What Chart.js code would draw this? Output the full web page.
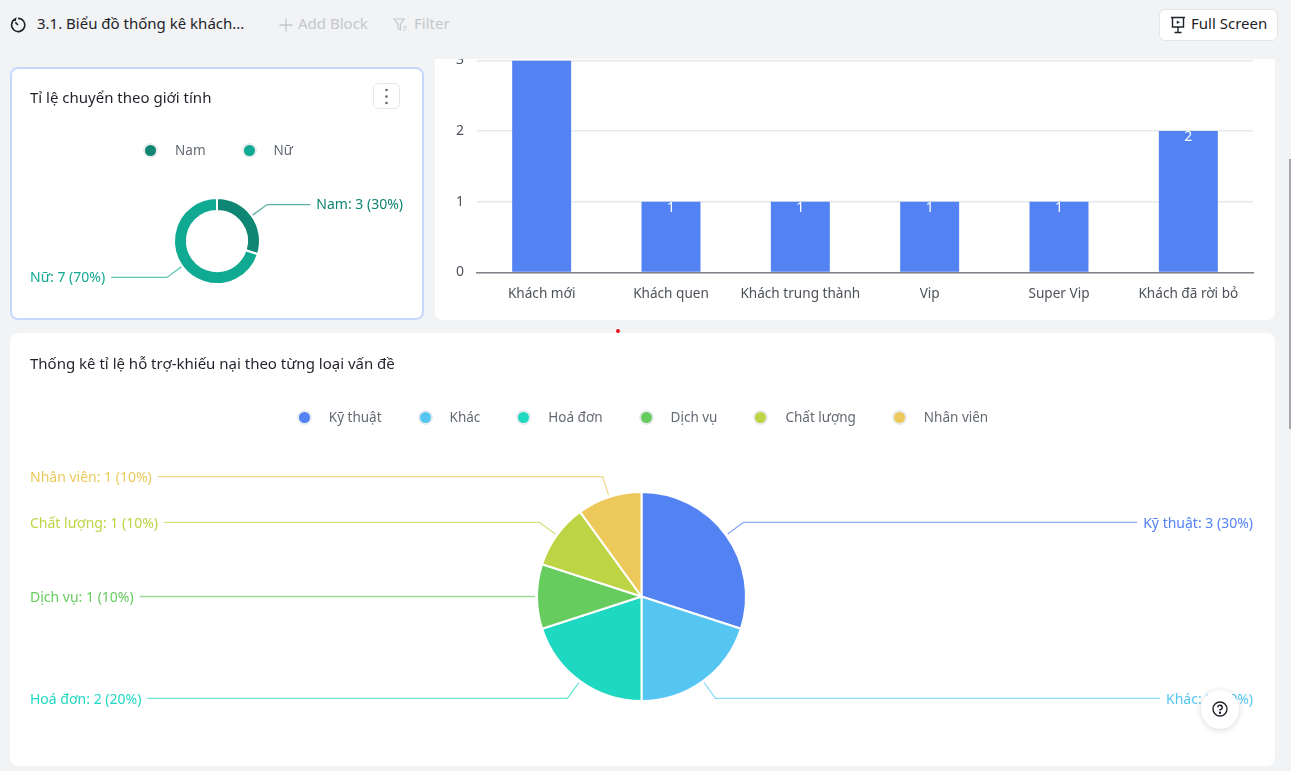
<!DOCTYPE html>
<html lang="vi">
<head>
<meta charset="utf-8">
<title>3.1. Biểu đồ thống kê khách</title>
<script src="https://cdn.jsdelivr.net/npm/chart.js@4"></script>
<style>
  * { box-sizing: border-box; }
  html, body { margin: 0; width: 1291px; height: 771px; overflow: hidden; background: #f1f3f5; font-family: "Noto Sans", sans-serif; }
  .abs { position: absolute; white-space: nowrap; }
  .card { position: absolute; background: #fff; border-radius: 8px; overflow: hidden; }
  canvas { position: absolute; display: block; }
  .title { position: absolute; left: 30px; font-size: 15px; color: #1f2329; line-height: 20px; white-space: nowrap; }
  .legend { position: absolute; display: flex; justify-content: center; align-items: center; gap: 38px; font-size: 13.5px; color: #646a73; line-height: 20px; }
  .legend span.item { display: flex; align-items: center; gap: 19px; }
  .legend i { width: 11px; height: 11px; border-radius: 50%; box-shadow: 0 0 0 2px #e9ecef; display: block; }
</style>
</head>
<body>
  <!-- top bar -->
  <svg class="abs" style="left:10px;top:17px" width="16" height="16" viewBox="0 0 16 16" fill="none" stroke="#1f2329" stroke-width="1.6">
    <path d="M5 2.2A6.6 6.6 0 1 0 8 1.4"/><path d="M8 8 5.4 5.4"/><path d="M3.6 3.4 5.4 2 5 4"/>
  </svg>
  <div class="abs" style="left:37px;top:13px;font-size:15px;line-height:20px;color:#1f2329">3.1. Biểu đồ thống kê khách...</div>
  <svg class="abs" style="left:279px;top:18px" width="14" height="14" viewBox="0 0 14 14" stroke="#c4c7cc" stroke-width="1.3"><path d="M7 0.5v13M0.5 7h13"/></svg>
  <div class="abs" style="left:298px;top:13px;font-size:15px;line-height:20px;color:#c4c7cc">Add Block</div>
  <svg class="abs" style="left:393px;top:18px" width="15" height="14" viewBox="0 0 15 14" fill="none" stroke="#c4c7cc" stroke-width="1.2"><path d="M1 1h10L7.5 6v6L5 10.5V6z"/><path d="M10 9h4M10 12h3"/></svg>
  <div class="abs" style="left:414px;top:13px;font-size:15px;line-height:20px;color:#c4c7cc">Filter</div>
  <div class="abs" style="left:1159px;top:9px;width:119px;height:32px;background:#fff;border:1px solid #e3e5e8;border-radius:6px"></div>
  <svg class="abs" style="left:1170px;top:16px" width="16" height="18" viewBox="0 0 16 18" fill="none" stroke="#1f2329" stroke-width="1.4"><path d="M1 1.5h14M2.5 1.5v9.5h11V1.5M8 11v5M4.5 16.5h7"/><path d="M6.8 4.5 10 6.3 6.8 8z" fill="#1f2329" stroke="none"/></svg>
  <div class="abs" style="left:1191px;top:13px;font-size:15px;line-height:20px;color:#1f2329">Full Screen</div>

  <!-- gender card -->
  <div class="card" style="left:10px;top:67px;width:414px;height:253px">
    <canvas id="gender-chart" style="left:0;top:0" width="414" height="253"></canvas>
  </div>
  <div class="abs" style="left:10px;top:67px;width:414px;height:253px;border:2px solid #c7d7fb;border-radius:8px"></div>
  <div class="title" style="top:87px">Tỉ lệ chuyển theo giới tính</div>
  <div class="abs" style="left:373px;top:83px;width:27px;height:26px;border:1px solid #e6e8eb;border-radius:5px;background:#fff"></div>
  <svg class="abs" style="left:385px;top:88px" width="3" height="17" viewBox="0 0 3 17" fill="#646a73"><circle cx="1.5" cy="2" r="1.3"/><circle cx="1.5" cy="8.5" r="1.3"/><circle cx="1.5" cy="15" r="1.3"/></svg>
  <div class="legend" id="gender-legend" style="left:10px;top:140px;width:418px"></div>

  <!-- customer type card, scrolled so its top is cut off -->
  <div class="card" style="left:435px;top:59px;width:840px;height:261px;border-radius:0 0 8px 8px">
    <canvas id="customer-chart" style="left:0;top:-20px" width="840" height="281"></canvas>
  </div>

  <div class="abs" style="left:616px;top:329px;width:4px;height:4px;border-radius:50%;background:#e8141f"></div>

  <!-- issue card -->
  <div class="card" style="left:10px;top:333px;width:1265px;height:433px">
    <canvas id="issue-chart" style="left:0;top:0" width="1265" height="433"></canvas>
  </div>
  <div class="title" style="top:353px">Thống kê tỉ lệ hỗ trợ-khiếu nại theo từng loại vấn đề</div>
  <div class="legend" id="issue-legend" style="left:11px;top:407px;width:1265px"></div>

  <!-- page scrollbar -->
  <div class="abs" style="left:1289px;top:159px;width:2px;height:270px;background:#a3a6aa"></div>

  <!-- help button -->
  <div class="abs" style="left:1201px;top:690px;width:38px;height:39px;border-radius:50%;background:#fff;box-shadow:0 1px 6px rgba(0,0,0,.16)"></div>
  <svg class="abs" style="left:1212px;top:701px" width="16" height="16" viewBox="0 0 16 16" fill="none" stroke="#1f2329" stroke-width="1.4">
    <circle cx="8" cy="8" r="7"/><path d="M5.8 6.2A2.2 2.2 0 1 1 8 8.6v1"/><circle cx="8" cy="11.8" r=".5" fill="#1f2329"/>
  </svg>

<script>
const FONT = '"Noto Sans", sans-serif';

const genderLabels = ["Nam", "Nữ"];
const genderValues = [3, 7];
const genderColors = ["#0f8573", "#10a992"];

const customerTypes  = ["Khách mới", "Khách quen", "Khách trung thành", "Vip", "Super Vip", "Khách đã rời bỏ"];
const customerCounts = [3, 1, 1, 1, 1, 2];
// the label of the first bar is scrolled out of view in the original
const customerBarLabels = ["", "1", "1", "1", "1", "2"];

const issueLabels = ["Kỹ thuật", "Khác", "Hoá đơn", "Dịch vụ", "Chất lượng", "Nhân viên"];
const issueValues = [3, 2, 2, 1, 1, 1];
const issueColors = ["#5383f3", "#55c6f2", "#1fd8c1", "#66cc5e", "#bdd444", "#ecc95a"];

// ── Legends ───────────────────────────────────────────────
function renderLegend(id, labels, colors) {
  const box = document.getElementById(id);
  labels.forEach((label, i) => {
    const item = document.createElement("span");
    item.className = "item";
    const dot = document.createElement("i");
    dot.style.background = colors[i];
    item.appendChild(dot);
    item.appendChild(document.createTextNode(label));
    box.appendChild(item);
  });
}
renderLegend("gender-legend", genderLabels, genderColors);
renderLegend("issue-legend", issueLabels, issueColors);

// ── Leader lines with "name: value (pct%)" labels ─────────
const leaderPlugin = {
  id: "leaders",
  afterDraw(chart, args, opts) {
    const ctx = chart.ctx;
    const ds = chart.data.datasets[0];
    const total = ds.data.reduce((a, b) => a + b, 0);
    ctx.save();
    ctx.font = `14px ${FONT}`;
    ctx.textBaseline = "middle";
    chart.getDatasetMeta(0).data.forEach((arc, i) => {
      const { x, y, startAngle, endAngle, outerRadius } = arc.getProps(["x", "y", "startAngle", "endAngle", "outerRadius"], true);
      const mid = (startAngle + endAngle) / 2;
      const r0 = outerRadius + opts.gap;
      const r1 = outerRadius + opts.elbow;
      const x0 = x + Math.cos(mid) * r0, y0 = y + Math.sin(mid) * r0;
      const x1 = x + Math.cos(mid) * r1, y1 = y + Math.sin(mid) * r1;
      const text = `${chart.data.labels[i]}: ${ds.data[i]} (${Math.round(ds.data[i] / total * 100)}%)`;
      const w = ctx.measureText(text).width;
      const onRight = Math.cos(mid) > 0;
      const xEnd = onRight ? opts.rightEdge - w - 6 : opts.leftEdge + w + 6;

      ctx.strokeStyle = ds.backgroundColor[i] + "aa";
      ctx.lineWidth = 1.3;
      ctx.beginPath();
      ctx.moveTo(x0, y0);
      ctx.lineTo(x1, y1);
      ctx.lineTo(xEnd, y1);
      ctx.stroke();

      ctx.fillStyle = ds.backgroundColor[i];
      ctx.textAlign = "left";
      ctx.fillText(text, onRight ? opts.rightEdge - w : opts.leftEdge, y1 + opts.textDy);
    });
    ctx.restore();
  },
};

function pieOptions(cutout, padding, leaders) {
  return {
    responsive: false,
    animation: false,
    cutout,
    layout: { padding },
    plugins: { legend: { display: false }, tooltip: { enabled: false }, leaders },
  };
}

new Chart(document.getElementById("gender-chart"), {
  type: "doughnut",
  plugins: [leaderPlugin],
  data: {
    labels: genderLabels,
    datasets: [{ data: genderValues, backgroundColor: genderColors, borderColor: "#fff", borderWidth: 2 }],
  },
  options: pieOptions("70%", { top: 130, bottom: 35 }, { gap: 1, elbow: 19, leftEdge: 20, rightEdge: 393, textDy: 0.5 }),
});

new Chart(document.getElementById("issue-chart"), {
  type: "pie",
  plugins: [leaderPlugin],
  data: {
    labels: issueLabels,
    datasets: [{ data: issueValues, backgroundColor: issueColors, borderColor: "#fff", borderWidth: 2 }],
  },
  options: pieOptions(0, { top: 158, bottom: 64, right: 2 }, { gap: 2, elbow: 21.5, leftEdge: 20, rightEdge: 1243, textDy: 1.5 }),
});

// ── Column chart ──────────────────────────────────────────
const barLabelPlugin = {
  id: "barLabels",
  afterDatasetsDraw(chart) {
    const ctx = chart.ctx;
    ctx.save();
    ctx.font = `14px ${FONT}`;
    ctx.fillStyle = "#fff";
    ctx.textAlign = "center";
    ctx.textBaseline = "middle";
    chart.getDatasetMeta(0).data.forEach((bar, i) => {
      ctx.fillText(customerBarLabels[i], bar.x, bar.y + 6);
    });
    ctx.restore();
  },
};

new Chart(document.getElementById("customer-chart"), {
  type: "bar",
  plugins: [barLabelPlugin],
  data: {
    labels: customerTypes,
    datasets: [{ data: customerCounts, backgroundColor: "#5383f3", barPercentage: 0.456, categoryPercentage: 1 }],
  },
  options: {
    responsive: false,
    animation: false,
    layout: { padding: { top: 18.5, right: 22 } },
    plugins: { legend: { display: false }, tooltip: { enabled: false } },
    scales: {
      x: {
        afterFit: s => { s.height = 47.5; },
        grid: { display: false },
        border: { color: "#7f8389", width: 1.5 },
        ticks: { color: "#4e5359", font: { family: FONT, size: 13.6 }, padding: 5, maxRotation: 0, autoSkip: false },
      },
      y: {
        min: 0,
        max: 3,
        afterFit: s => { s.width = 42; },
        grid: { color: "#e6e8ea", lineWidth: 1.5, drawTicks: false },
        border: { display: false },
        ticks: { stepSize: 1, color: "#4e5359", font: { family: FONT, size: 14 }, padding: 13 },
      },
    },
  },
});
</script>
</body>
</html>
